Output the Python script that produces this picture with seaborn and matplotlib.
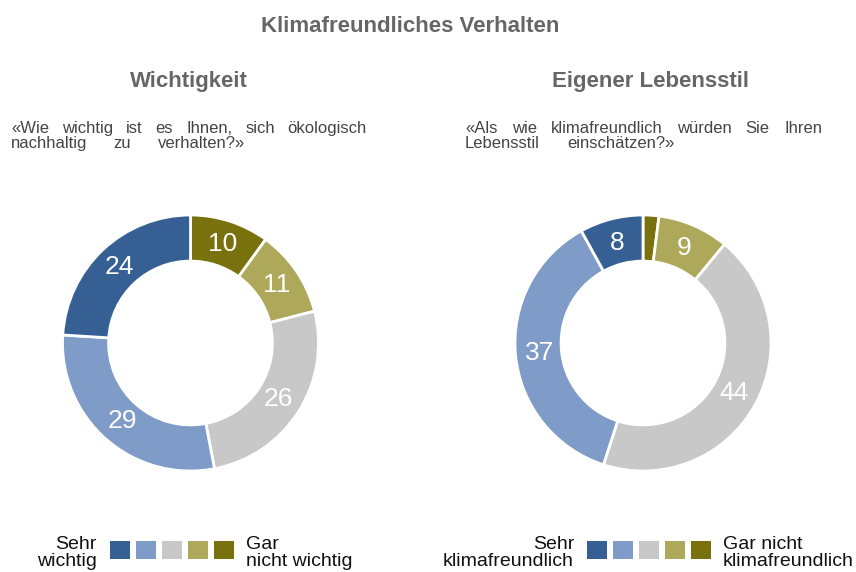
import matplotlib
matplotlib.use("Agg")
import matplotlib.pyplot as plt
from matplotlib.patches import Patch
import seaborn as sns

W, H = 856, 572

# Data (values read clockwise from the top: "Gar nicht" ... "Sehr")
wichtig_vals = [10, 11, 26, 29, 24]
lebensstil_vals = [2, 9, 44, 37, 8]
colors = ["#78710d", "#aea85a", "#c8c8c8", "#7f9bc8", "#365f94"]

title = "Klimafreundliches Verhalten"
sub_left = "Wichtigkeit"
sub_right = "Eigener Lebensstil"
q_left = ["«Wie wichtig ist es Ihnen, sich ökologisch", "nachhaltig zu verhalten?»"]
q_right = ["«Als wie klimafreundlich würden Sie Ihren", "Lebensstil einschätzen?»"]
leg_left = (["Sehr", "wichtig"], ["Gar", "nicht wichtig"])
leg_right = (["Sehr", "klimafreundlich"], ["Gar nicht", "klimafreundlich"])

sns.set_theme(style="white")
plt.rcParams["font.family"] = ["Liberation Sans", "DejaVu Sans"]

fig = plt.figure(figsize=(W / 100, H / 100), dpi=100)
pal = sns.color_palette(colors)


def px(x, y):
    return x / W, 1 - y / H


def donut(cx, cy, vals):
    r = 128
    size = 2.2 * r
    ax = fig.add_axes([(cx - size / 2) / W, (H - cy - size / 2) / H, size / W, size / H])
    ax.pie(vals, colors=pal, startangle=90, counterclock=False, radius=1,
           wedgeprops=dict(width=0.36, edgecolor="white", linewidth=2),
           autopct=lambda p: f"{p:.0f}" if p >= 5 else "", pctdistance=0.81,
           textprops=dict(color="white", fontsize=19))
    ax.set_xlim(-1.1, 1.1)
    ax.set_ylim(-1.1, 1.1)
    ax.set_aspect("equal")
    ax.axis("off")
    return ax


# spread words of each line between x0 and the line's end x (justified look)
def justify(lines, x0, ends, y0, dy, **kw):
    r = fig.canvas.get_renderer()
    for i, (line, x1) in enumerate(zip(lines, ends)):
        words = line.split(" ")
        ts = [fig.text(0, 0, w, va="baseline", **kw) for w in words]
        ws = [t.get_window_extent(r).width for t in ts]
        gap = (x1 - x0 - sum(ws)) / (len(ws) - 1)
        x = x0
        for t, w in zip(ts, ws):
            t.set_position(px(x, y0 + i * dy))
            x += w + gap


def legend(cx, cy, left_txt, right_txt, xl, xr):
    handles = [Patch(facecolor=c, edgecolor="none") for c in pal[::-1]]
    fig.legend(handles=handles, labels=[""] * 5, ncol=5, loc="center",
               bbox_to_anchor=px(cx, cy), frameon=False, fontsize=14,
               handlelength=1.03, handleheight=1.03, handletextpad=0,
               columnspacing=0.3, borderpad=0, borderaxespad=0)
    for i, s in enumerate(left_txt):
        fig.text(*px(xl, 549 + 17 * i), s, ha="right", va="baseline", fontsize=14, color="#111111")
    for i, s in enumerate(right_txt):
        fig.text(*px(xr, 549 + 17 * i), s, ha="left", va="baseline", fontsize=14, color="#111111")


donut(190.5, 343, wichtig_vals)
donut(643, 343, lebensstil_vals)

fig.text(*px(410, 32), title, ha="center", va="baseline", fontsize=16, fontweight="bold", color="#666666")
fig.text(*px(189, 87), sub_left, ha="center", va="baseline", fontsize=16, fontweight="bold", color="#666666")
fig.text(*px(651, 87), sub_right, ha="center", va="baseline", fontsize=16, fontweight="bold", color="#666666")

justify(q_left, 11, [367, 245], 133, 14.5, fontsize=12, color="#444444")
justify(q_right, 465, [822, 675], 133, 14.5, fontsize=12, color="#444444")

legend(172, 551, *leg_left, 97, 246)
legend(649, 551, *leg_right, 574, 723)

fig.savefig("out.png", dpi=100)
